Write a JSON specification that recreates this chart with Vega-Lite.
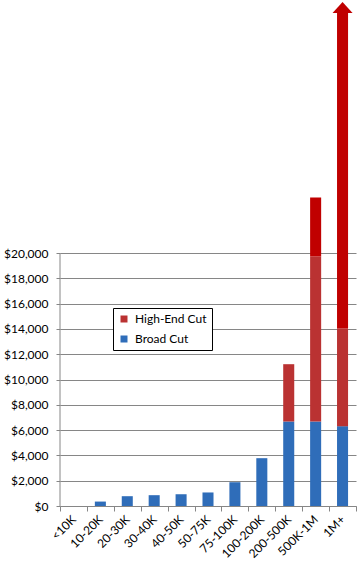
{
  "$schema": "https://vega.github.io/schema/vega-lite/v6.json",
  "autosize": {"type": "none"},
  "width": 296,
  "height": 506,
  "padding": {"left": 60, "top": 0, "right": 6, "bottom": 63},
  "background": "white",
  "config": {
    "view": {"stroke": null},
    "font": "Lato",
    "axis": {"labelFont": "Lato", "labelFontSize": 12, "labelColor": "#000000"}
  },
  "datasets": {
    "bars": [
      {"cat": "<10K", "series": "Broad Cut", "ord": 1, "value": 0},
      {"cat": "10-20K", "series": "Broad Cut", "ord": 1, "value": 350},
      {"cat": "20-30K", "series": "Broad Cut", "ord": 1, "value": 775},
      {"cat": "30-40K", "series": "Broad Cut", "ord": 1, "value": 855},
      {"cat": "40-50K", "series": "Broad Cut", "ord": 1, "value": 930},
      {"cat": "50-75K", "series": "Broad Cut", "ord": 1, "value": 1070},
      {"cat": "75-100K", "series": "Broad Cut", "ord": 1, "value": 1880},
      {"cat": "100-200K", "series": "Broad Cut", "ord": 1, "value": 3780},
      {"cat": "200-500K", "series": "Broad Cut", "ord": 1, "value": 6680},
      {"cat": "200-500K", "series": "High-End Cut", "ord": 2, "value": 4530},
      {"cat": "500K-1M", "series": "Broad Cut", "ord": 1, "value": 6680},
      {"cat": "500K-1M", "series": "High-End Cut", "ord": 2, "value": 13040},
      {"cat": "500K-1M", "series": "Off-scale", "ord": 3, "value": 4670},
      {"cat": "1M+", "series": "Broad Cut", "ord": 1, "value": 6310},
      {"cat": "1M+", "series": "High-End Cut", "ord": 2, "value": 7720},
      {"cat": "1M+", "series": "Off-scale", "ord": 3, "value": 24940}
    ],
    "arrow": [{"cat": "1M+", "value": 39400}],
    "axisline": [{"cat": "<10K", "from": 0, "to": 20000}]
  },
  "layer": [
    {
      "data": {"name": "bars"},
      "mark": {"type": "bar", "width": {"band": 0.41}},
      "encoding": {
        "x": {
          "field": "cat",
          "type": "nominal",
          "sort": null,
          "scale": {
            "domain": ["<10K", "10-20K", "20-30K", "30-40K", "40-50K", "50-75K", "75-100K", "100-200K", "200-500K", "500K-1M", "1M+"],
            "paddingInner": 0,
            "paddingOuter": 0
          },
          "axis": {
            "title": null,
            "labelAngle": -45,
            "labelAlign": "right",
            "labelBaseline": "middle",
            "labelPadding": 6,
            "tickBand": "extent",
            "tickSize": 5,
            "tickColor": "#868686",
            "domainColor": "#868686",
            "grid": false
          }
        },
        "y": {
          "field": "value",
          "type": "quantitative",
          "stack": "zero",
          "scale": {"domain": [0, 40000], "nice": false},
          "axis": {
            "title": null,
            "values": [0, 2000, 4000, 6000, 8000, 10000, 12000, 14000, 16000, 18000, 20000],
            "format": "$,d",
            "grid": true,
            "gridColor": "#868686",
            "domain": false,
            "tickSize": 4,
            "tickColor": "#868686",
            "labelPadding": 8
          }
        },
        "color": {
          "field": "series",
          "type": "nominal",
          "scale": {
            "domain": ["High-End Cut", "Broad Cut", "Off-scale"],
            "range": ["#BA3232", "#2F6DB9", "#C00000"]
          },
          "legend": {
            "title": null,
            "values": ["High-End Cut", "Broad Cut"],
            "orient": "none",
            "legendX": 53,
            "legendY": 308,
            "strokeColor": "#000000",
            "fillColor": "#ffffff",
            "padding": 5,
            "rowPadding": 8,
            "symbolType": "square",
            "symbolSize": 49,
            "symbolStrokeWidth": 0,
            "labelFont": "Lato",
            "labelFontSize": 12,
            "labelColor": "#000000",
            "labelOffset": 5
          }
        },
        "order": {"field": "ord", "type": "quantitative"}
      }
    },
    {
      "data": {"name": "arrow"},
      "mark": {"type": "point", "shape": "M-1,0.55L0,-0.55L1,0.55Z", "filled": true, "color": "#C00000", "opacity": 1, "size": 400},
      "encoding": {
        "x": {"field": "cat", "type": "nominal", "sort": null},
        "y": {"field": "value", "type": "quantitative"}
      }
    },
    {
      "data": {"name": "axisline"},
      "mark": {"type": "rule", "color": "#868686"},
      "encoding": {
        "x": {"field": "cat", "type": "nominal", "sort": null, "bandPosition": 0},
        "y": {"field": "from", "type": "quantitative"},
        "y2": {"field": "to"}
      }
    }
  ]
}
